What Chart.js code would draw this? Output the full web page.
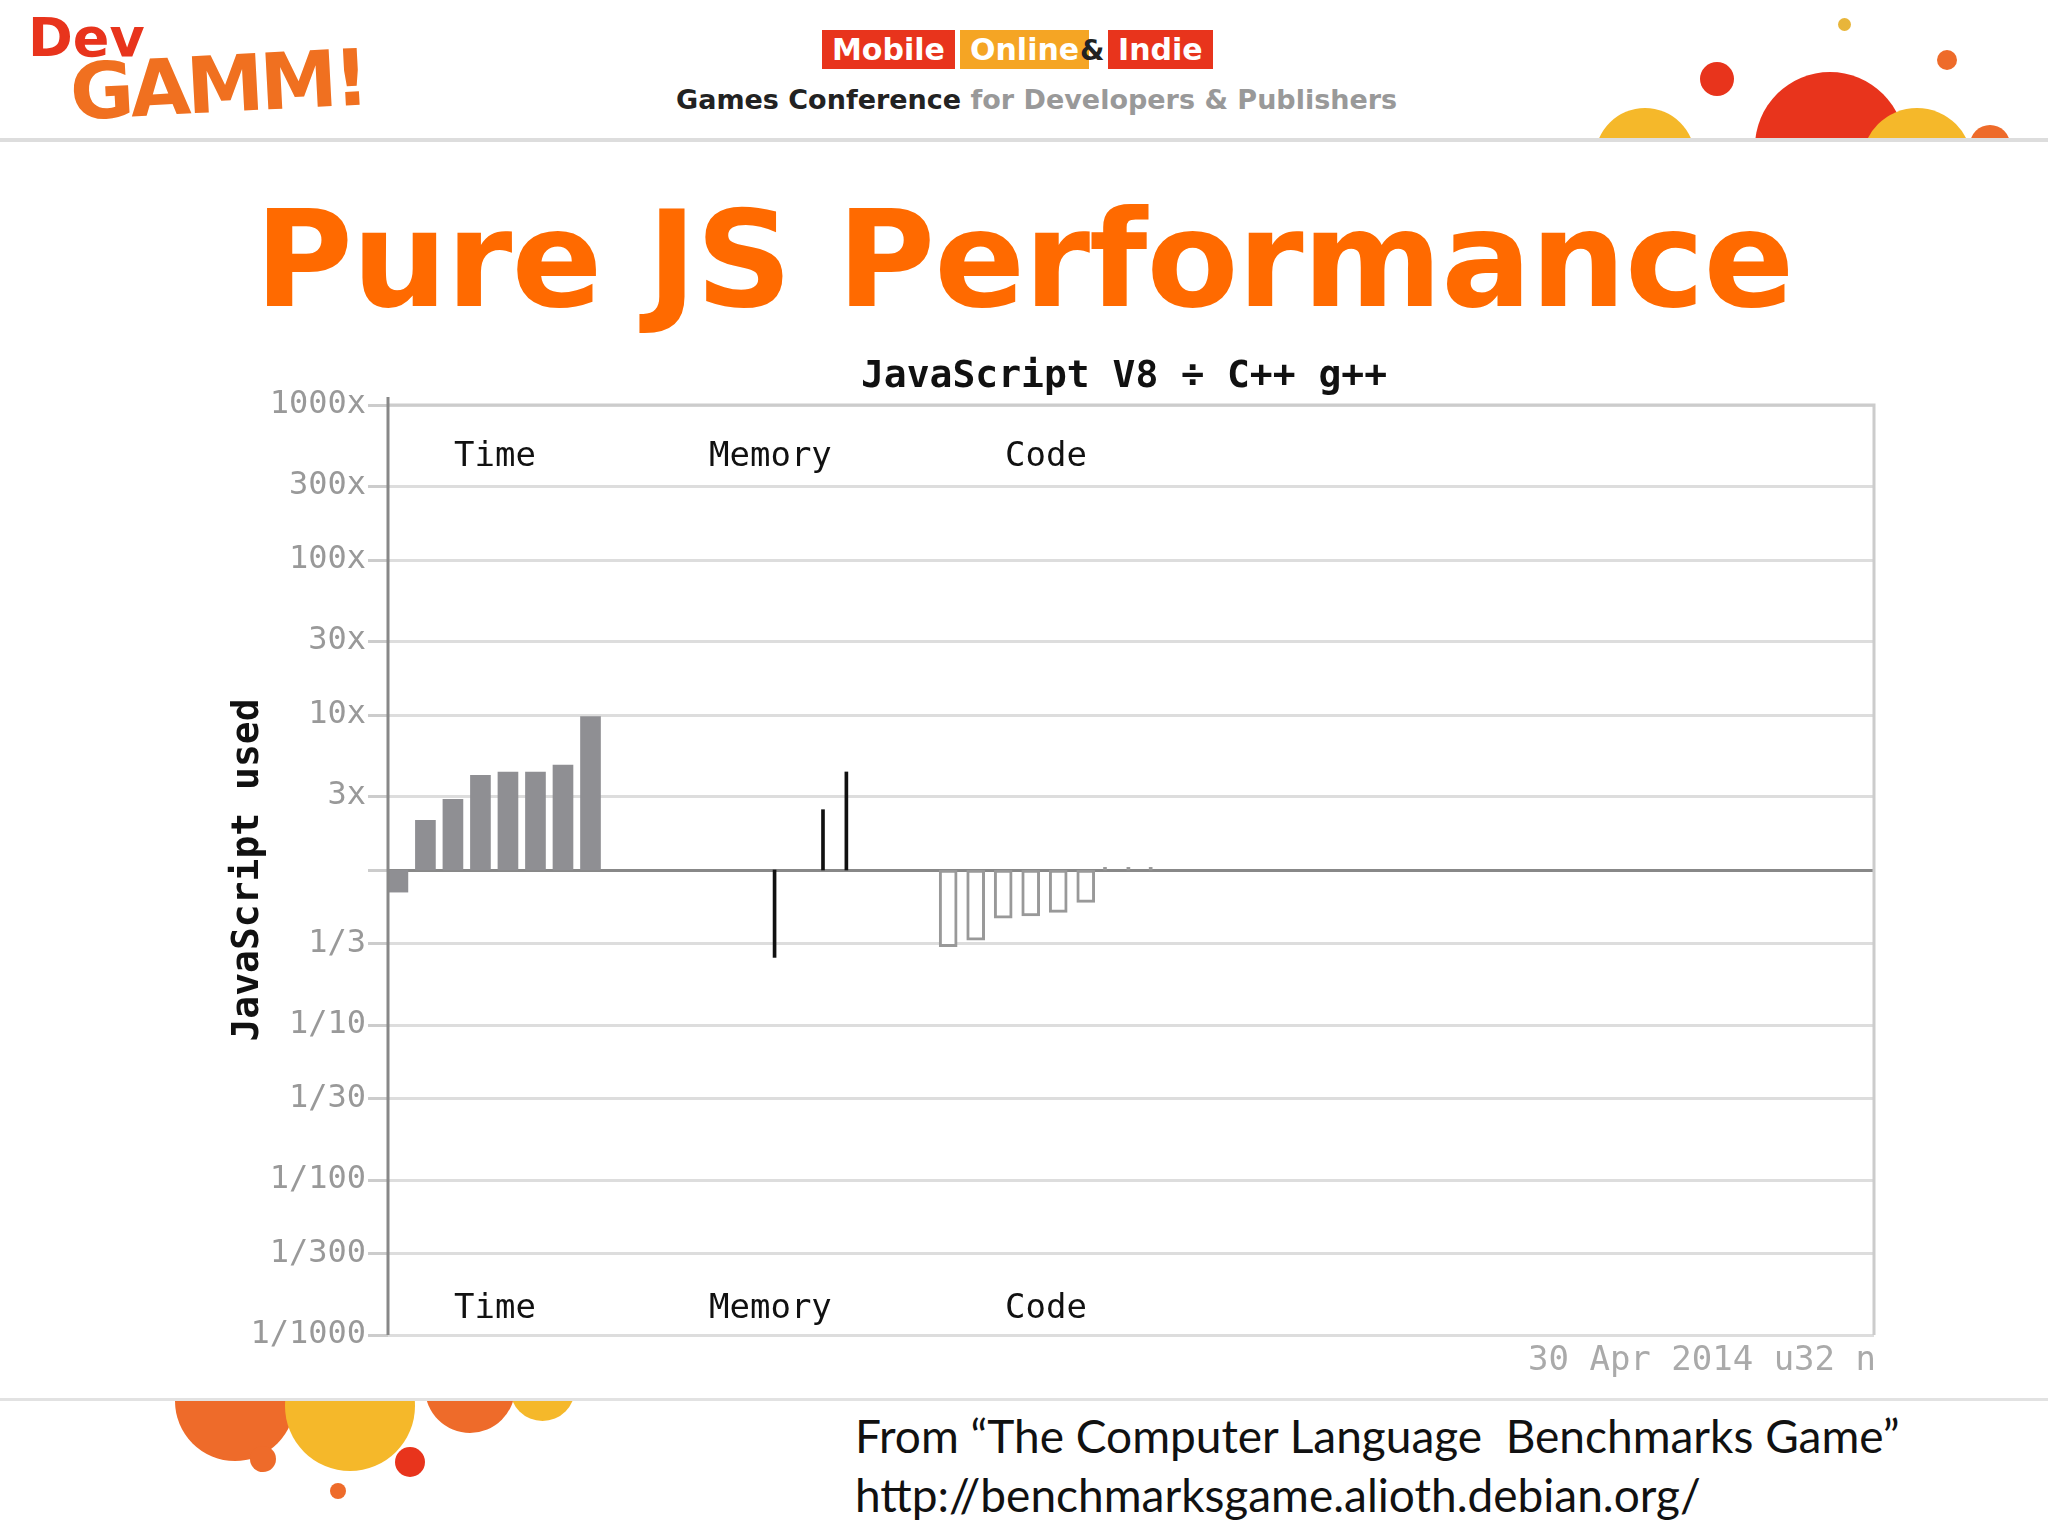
<!DOCTYPE html>
<html><head><meta charset="utf-8">
<script src="https://cdn.jsdelivr.net/npm/chart.js@4"></script>
<style>
html,body{margin:0;padding:0;width:2048px;height:1536px;background:#fff;overflow:hidden;font-family:"DejaVu Sans",sans-serif}
#c{position:absolute;left:0;top:0}
.t{position:absolute;white-space:nowrap}
.mono{font-family:"DejaVu Sans Mono",monospace}
.circ{position:absolute;border-radius:50%}
.clip{position:absolute;overflow:hidden}
</style></head><body>
<div class="clip" style="left:0;top:0;width:2048px;height:138px;background:#fff;border-bottom:4px solid #ddd">
<div class="circ" style="left:1595px;top:108px;width:100px;height:100px;background:#f5b82a"></div>
<div class="circ" style="left:1755px;top:72px;width:150px;height:150px;background:#e8341c"></div>
<div class="circ" style="left:1862px;top:108px;width:110px;height:110px;background:#f5b82a"></div>
<div class="circ" style="left:1700px;top:62px;width:34px;height:34px;background:#e8341c"></div>
<div class="circ" style="left:1937px;top:50px;width:20px;height:20px;background:#ee6b2a"></div>
<div class="circ" style="left:1838px;top:18px;width:13px;height:13px;background:#e8b53a"></div>
<div class="circ" style="left:1970px;top:125px;width:40px;height:40px;background:#ee6b2a"></div>
<div class="t" style="left:28px;top:6px;font:bold 54px 'DejaVu Sans';color:#e8341c">Dev</div>
<div class="t" style="left:70px;top:40px;font:bold 78px 'DejaVu Sans';color:#f07020;letter-spacing:-4px;transform:rotate(-3deg)">GAMM!</div>
<div class="t" style="left:822px;top:30px;padding:2px 10px;background:#e8341c;color:#fff;font:bold 30px 'DejaVu Sans'">Mobile</div>
<div class="t" style="left:960px;top:30px;padding:2px 10px;background:#f5a524;color:#fff;font:bold 30px 'DejaVu Sans'">Online</div>
<div class="t" style="left:1080px;top:34px;font:bold 28px 'DejaVu Sans';color:#222">&amp;</div>
<div class="t" style="left:1108px;top:30px;padding:2px 10px;background:#e8341c;color:#fff;font:bold 30px 'DejaVu Sans'">Indie</div>
<div class="t" style="left:676px;top:84px;font:bold 27px 'DejaVu Sans';color:#222">Games Conference <span style="color:#999">for Developers &amp; Publishers</span></div>
</div>
<div class="t" style="left:0;width:2048px;text-align:center;top:182px;font:bold 134px 'DejaVu Sans';color:#ff6a00;letter-spacing:-1px">Pure JS Performance</div>
<div class="clip" style="left:0;top:1398px;width:2048px;height:138px;background:#fff;border-top:3px solid #e2e2e2">
<div class="circ" style="left:175px;top:-60px;width:120px;height:120px;background:#ee6b2a"></div>
<div class="circ" style="left:285px;top:-60px;width:130px;height:130px;background:#f5b82a"></div>
<div class="circ" style="left:425px;top:-58px;width:90px;height:90px;background:#ee6b2a"></div>
<div class="circ" style="left:510px;top:-45px;width:65px;height:65px;background:#f5b82a"></div>
<div class="circ" style="left:250px;top:45px;width:26px;height:26px;background:#ee6b2a"></div>
<div class="circ" style="left:395px;top:46px;width:30px;height:30px;background:#e8341c"></div>
<div class="circ" style="left:330px;top:82px;width:16px;height:16px;background:#ee6b2a"></div>
<div class="t" style="left:855px;top:7px;font:46px Lato;color:#111">From “The Computer Language&nbsp; Benchmarks Game”</div>
<div class="t" style="left:855px;top:66px;font:46px Lato;color:#111">http://benchmarksgame.alioth.debian.org/</div>
</div>
<canvas id="c" width="2048" height="1536"></canvas>
<div class="t mono" style="left:0;width:2248px;text-align:center;top:352px;font-weight:bold;font-size:38px;color:#111">JavaScript V8 ÷ C++ g++</div>
<div class="t mono" style="left:454px;top:434px;font-size:34px;color:#111">Time</div>
<div class="t mono" style="left:709px;top:434px;font-size:34px;color:#111">Memory</div>
<div class="t mono" style="left:1005px;top:434px;font-size:34px;color:#111">Code</div>
<div class="t mono" style="left:454px;top:1286px;font-size:34px;color:#111">Time</div>
<div class="t mono" style="left:709px;top:1286px;font-size:34px;color:#111">Memory</div>
<div class="t mono" style="left:1005px;top:1286px;font-size:34px;color:#111">Code</div>
<div class="t mono" style="right:172px;top:1338px;font-size:34px;color:#aaa">30 Apr 2014 u32 n</div>
<script>
const yTicks=[0.001,1/300,0.01,1/30,0.1,1/3,1,3,10,30,100,300,1000];
const yLabels=['1/1000','1/300','1/100','1/30','1/10','1/3','','3x','10x','30x','100x','300x','1000x'];
const timeX=[0,1,2,3,4,5,6,7];
const timeVals=[0.72,2.09,2.86,4.08,4.29,4.29,4.76,9.75];
const memX=[13.69,15.45,16.3];
const memVals=[0.273,2.45,4.29];
const codeX=[20,21,22,23,24,25];
const codeVals=[0.32,0.353,0.488,0.505,0.533,0.618];
const tickX=[25.7,26.55,27.36];
const tickVals=[1.04,1.04,1.04];
const pts=(xs,vs)=>xs.map((x,i)=>({x:x,y:[1,vs[i]]}));
const frame={id:'frame',afterDraw(c){const a=c.chartArea,g=c.ctx;g.save();g.strokeStyle='#ccc';g.lineWidth=3;g.beginPath();g.moveTo(a.left,a.top);g.lineTo(a.right,a.top);g.lineTo(a.right,a.bottom);g.stroke();g.strokeStyle='#888';g.beginPath();g.moveTo(a.left,a.top-8);g.lineTo(a.left,a.bottom);g.stroke();g.restore();}};
new Chart(document.getElementById('c'),{
type:'bar',
data:{datasets:[
{data:pts(timeX,timeVals),backgroundColor:'#8f8f93',barThickness:20,borderSkipped:false},
{data:pts(memX,memVals),backgroundColor:'#111',barThickness:3},
{data:pts(codeX,codeVals),backgroundColor:'#fff',borderColor:'#999',borderWidth:3,barThickness:18,borderSkipped:false},
{data:pts(tickX,tickVals),backgroundColor:'#999',barThickness:3}
]},
options:{responsive:false,animation:false,grouped:false,
layout:{padding:{left:225,top:405,right:174,bottom:201}},
plugins:{legend:{display:false},tooltip:{enabled:false}},
scales:{
x:{type:'linear',min:-0.36,max:53.65,display:false,offset:false},
y:{type:'logarithmic',min:0.001,max:1000,
afterBuildTicks(s){s.ticks=yTicks.map(v=>({value:v}));},
afterFit(s){s.width=163;},
border:{display:false},
grid:{color:c=>Math.abs(c.tick.value-1)<1e-6?'#888':'#ddd',lineWidth:3,tickLength:20,tickColor:'#ccc'},
ticks:{autoSkip:false,padding:2,color:'#999',font:{family:'DejaVu Sans Mono',size:32},callback:(v,i)=>yLabels[i]},
title:{display:true,text:'JavaScript used',color:'#111',font:{family:'DejaVu Sans Mono',size:38,weight:'bold'},padding:0}
}}},
plugins:[frame]});
</script>
</body></html>
